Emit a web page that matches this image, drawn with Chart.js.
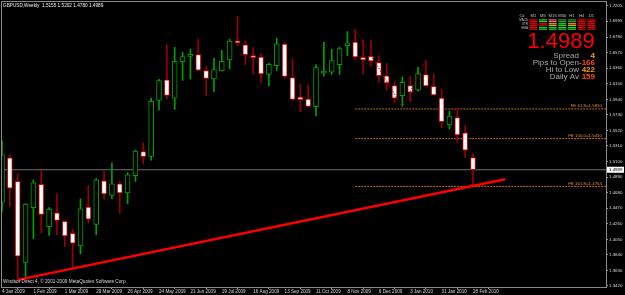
<!DOCTYPE html>
<html>
<head>
<meta charset="utf-8">
<script src="https://cdn.jsdelivr.net/npm/chart.js@4.4.1/dist/chart.umd.min.js"></script>
<style>
  html, body { margin: 0; padding: 0; background: #000; }
  #wrap { position: relative; width: 625px; height: 295px; }
</style>
</head>
<body>
<div id="wrap"><canvas id="chart"></canvas></div>
<script>
/* weekly GBPUSD candles, 4 Jan 2009 .. 28 Feb 2010 */
const opens = [1.4547, 1.5151, 1.4833, 1.3738, 1.4476, 1.4793, 1.4221, 1.4409, 1.4292, 1.4131,
  1.3961, 1.4484, 1.4252, 1.4839, 1.4641, 1.4798, 1.4675, 1.4910, 1.5236, 1.5169,
  1.5926, 1.6202, 1.5957, 1.6449, 1.6520, 1.6543, 1.6329, 1.6216, 1.6323, 1.6471,
  1.6731, 1.6677, 1.6516, 1.6511, 1.6275, 1.6396, 1.6686, 1.6235, 1.5970, 1.5943,
  1.5840, 1.6296, 1.6306, 1.6409, 1.6665, 1.6712, 1.6507, 1.6520, 1.6436, 1.6256,
  1.6127, 1.5988, 1.6127, 1.6064, 1.6275, 1.6114, 1.5957, 1.5594, 1.5692, 1.5487,
  1.5155];
const highs = [1.5380, 1.5190, 1.4937, 1.4534, 1.4852, 1.4986, 1.4480, 1.4664, 1.4300, 1.4185,
  1.4597, 1.4775, 1.4869, 1.4967, 1.5084, 1.4829, 1.4950, 1.5255, 1.5357, 1.5953,
  1.6212, 1.6677, 1.6641, 1.6574, 1.6618, 1.6753, 1.6386, 1.6494, 1.6601, 1.6749,
  1.7057, 1.6731, 1.6641, 1.6557, 1.6431, 1.6766, 1.6702, 1.6484, 1.6141, 1.6135,
  1.6409, 1.6708, 1.6614, 1.6645, 1.6856, 1.6883, 1.6745, 1.6735, 1.6530, 1.6422,
  1.6175, 1.6243, 1.6252, 1.6373, 1.6463, 1.6283, 1.6078, 1.5782, 1.5818, 1.5581,
  1.5202];
const lows = [1.4427, 1.4494, 1.3514, 1.3545, 1.4060, 1.4141, 1.4104, 1.4113, 1.3947, 1.3671,
  1.3853, 1.4269, 1.4114, 1.4588, 1.4597, 1.4404, 1.4530, 1.4833, 1.5067, 1.5120,
  1.5792, 1.5947, 1.5805, 1.6194, 1.6216, 1.6326, 1.5993, 1.6041, 1.6319, 1.6350,
  1.6661, 1.6409, 1.6283, 1.6162, 1.6122, 1.6329, 1.6229, 1.5930, 1.5773, 1.5836,
  1.5715, 1.6252, 1.6275, 1.6275, 1.6531, 1.6476, 1.6283, 1.6386, 1.6171, 1.6064,
  1.5894, 1.5836, 1.5907, 1.6051, 1.6118, 1.5997, 1.5558, 1.5537, 1.5357, 1.5155,
  1.4780];
const closes = [1.5192, 1.4742, 1.3822, 1.4524, 1.4812, 1.4386, 1.4457, 1.4306, 1.4095, 1.3997,
  1.4463, 1.4323, 1.4852, 1.4664, 1.4798, 1.4675, 1.4919, 1.5241, 1.5165, 1.5912,
  1.6194, 1.5993, 1.6453, 1.6516, 1.6547, 1.6333, 1.6221, 1.6342, 1.6453, 1.6726,
  1.6702, 1.6543, 1.6503, 1.6283, 1.6413, 1.6691, 1.6248, 1.5939, 1.5934, 1.5845,
  1.6369, 1.6315, 1.6463, 1.6624, 1.6704, 1.6514, 1.6471, 1.6457, 1.6261, 1.6162,
  1.5957, 1.6171, 1.6037, 1.6288, 1.6122, 1.6001, 1.5639, 1.5715, 1.5460, 1.5255,
  1.4989];

const dateLabels = ["4 Jan 2009", "1 Feb 2009", "1 Mar 2009", "29 Mar 2009", "26 Apr 2009",
  "24 May 2009", "21 Jun 2009", "19 Jul 2009", "16 Aug 2009", "13 Sep 2009", "11 Oct 2009",
  "8 Nov 2009", "6 Dec 2009", "3 Jan 2010", "31 Jan 2010", "28 Feb 2010"];
const priceTicks = [1.3420, 1.3630, 1.3840, 1.4050, 1.4260, 1.4470, 1.4680, 1.4890, 1.5100,
  1.5310, 1.5520, 1.5730, 1.5940, 1.6150, 1.6360, 1.6570, 1.6780, 1.6995, 1.7205];

const lastPrice = 1.4989;
const feLevels = [1.5810, 1.5410, 1.4764];
const feNames = ["FE 61.8=1.5810", "FE 100.0=1.5410", "FE 161.8=1.4764"];
const feStart = 45;
const zigzagIdx = [45, 51, 54];
const zigzagPrice = [1.6883, 1.5836, 1.6463];
const trendIdx = [2, 64.1];
const trendPrice = [1.3503, 1.4861];

// indicator panel
const tfNames = ["M1", "M5", "M15", "M30", "H1", "H4", "D1"];
const rowNames = ["MACD", "STR", "EMA"];
const panelRows = [
  ["red", "lime", "pink", "green", "green", "red", "red"],
  ["red", "red", "orange", "lime", "orange", "red", "red"],
  ["red", "lime", "lime", "lime", "lime", "red", "red"]
];
const statNames = ["Spread", "Pips to Open", "Hi to Low", "Daily Av"];
const statValues = ["4", "-166", "422", "159"];
const statColors = ["#f0a000", "#ff4a10", "#f0a000", "#ff4a10"];

const X_MAX = 604 / 7.85;
const GREEN = "#00a000";
const BEAR_WICK = "#9a0000";
const FE_COLOR = "#c06a1e";
const FONT = "Liberation Sans";

const idx = opens.map((v, i) => i);
const isBull = idx.map((i) => closes[i] >= opens[i]);

const overlay = {
  id: "overlay",
  afterDraw(chart) {
    const ctx = chart.ctx;
    const ys = chart.scales.y;
    const area = chart.chartArea;
    ctx.save();

    // frame
    ctx.strokeStyle = "#8a8a8a";
    ctx.lineWidth = 1;
    ctx.strokeRect(1.5, 1.5, area.right - 1, area.bottom - 1);

    // header and copyright
    ctx.font = `4.7px "${FONT}"`;
    ctx.fillStyle = "#f0f0f0";
    ctx.textBaseline = "middle";
    ctx.textAlign = "left";
    ctx.fillText("GBPUSD,Weekly  1.5155 1.5202 1.4780 1.4989", 3, 5.5);
    ctx.fillStyle = "#d8d8d8";
    ctx.fillText("Windsor Direct 4, \u00a9 2001-2009 MetaQuotes Software Corp.", 3, 282);

    // FE labels
    ctx.font = `4.4px "${FONT}"`;
    ctx.fillStyle = "#e08a30";
    ctx.textAlign = "right";
    feLevels.forEach((lv, k) => {
      ctx.fillText(feNames[k], 602, ys.getPixelForValue(lv) - 3);
    });

    // current price box on the axis
    const py = ys.getPixelForValue(lastPrice);
    ctx.fillStyle = "#ffffff";
    ctx.fillRect(607, py - 3, 17, 6);
    ctx.fillStyle = "#000000";
    ctx.textAlign = "left";
    ctx.fillText(lastPrice.toFixed(4), 609, py + 0.3);

    // indicator panel
    const colorMap = { red: "#e80000", lime: "#10e010", pink: "#f07070",
      green: "#2f9a2f", orange: "#f0a000" };
    const cx0 = 533.3, dx = 9.67;
    ctx.font = `4.2px "${FONT}"`;
    ctx.fillStyle = "#c0c0c0";
    ctx.textAlign = "center";
    ctx.fillText("Ck", 522, 15.7);
    tfNames.forEach((t, c) => ctx.fillText(t, cx0 + c * dx, 15.7));
    ctx.font = `3px "${FONT}"`;
    ctx.textAlign = "right";
    rowNames.forEach((r, k) => ctx.fillText(r, 528, 20.6 + k * 3.9));
    panelRows.forEach((row, r) => {
      row.forEach((c, col) => {
        const x = cx0 + col * dx - 4;
        const y = 19.3 + r * 3.8;
        ctx.fillStyle = colorMap[c];
        ctx.fillRect(x, y, 8, 1.2);
        ctx.fillRect(x, y + 1.7, 8, 1.2);
      });
    });

    ctx.font = `22px "${FONT}"`;
    ctx.fillStyle = "#ff0000";
    ctx.textAlign = "center";
    ctx.fillText(lastPrice.toFixed(4), 561, 42);

    statNames.forEach((s, k) => {
      const y = 55.3 + k * 7.3;
      ctx.font = `8px "${FONT}"`;
      ctx.fillStyle = "#a8a8a8";
      ctx.textAlign = "right";
      ctx.fillText(s, 579, y);
      ctx.font = `bold 8px "${FONT}"`;
      ctx.fillStyle = statColors[k];
      ctx.fillText(statValues[k], 595, y);
    });

    ctx.restore();
  }
};

const hLine = (y, x0, color, dash) => ({
  type: "line",
  data: [{ x: x0, y: y }, { x: X_MAX, y: y }],
  borderColor: color,
  borderWidth: 1,
  borderDash: dash,
  pointRadius: 0,
  order: 5
});

const datasets = [
  hLine(lastPrice, 0, "#707070", []),
  ...feLevels.map((lv) => hLine(lv, feStart, FE_COLOR, [2, 1])),
  {
    type: "bar",
    data: idx.map((i) => ({ x: i, y: [lows[i], highs[i]] })),
    backgroundColor: idx.map((i) => (isBull[i] ? GREEN : BEAR_WICK)),
    borderWidth: 0,
    barThickness: 1,
    grouped: false,
    order: 4
  },
  {
    type: "bar",
    data: idx.map((i) => ({ x: i, y: [opens[i], closes[i]] })),
    backgroundColor: idx.map((i) => (isBull[i] ? "#000000" : "#ffffff")),
    borderColor: idx.map((i) => (isBull[i] ? GREEN : "#e00000")),
    borderWidth: 1,
    borderSkipped: false,
    barThickness: 5,
    minBarLength: 2,
    grouped: false,
    order: 3
  },
  {
    type: "line",
    data: zigzagIdx.map((x, k) => ({ x: x, y: zigzagPrice[k] })),
    borderColor: "#a00000",
    borderWidth: 1,
    borderDash: [1.5, 1.5],
    pointRadius: 0,
    order: 2
  },
  {
    type: "line",
    data: trendIdx.map((x, k) => ({ x: x, y: trendPrice[k] })),
    borderColor: "#ff0000",
    borderWidth: 2.4,
    pointRadius: 0,
    order: 1
  }
];

new Chart(document.getElementById("chart"), {
  type: "bar",
  data: { datasets: datasets },
  plugins: [overlay],
  options: {
    responsive: true,
    maintainAspectRatio: false,
    animation: false,
    devicePixelRatio: 1,
    layout: { padding: { left: 2, top: 2, right: 0, bottom: 0 } },
    plugins: { legend: { display: false }, tooltip: { enabled: false } },
    scales: {
      x: {
        type: "linear",
        min: 0,
        max: X_MAX,
        offset: false,
        afterFit: (s) => { s.height = 8; },
        afterBuildTicks: (s) => { s.ticks = dateLabels.map((d, k) => ({ value: k * 4 })); },
        ticks: {
          callback: (v) => dateLabels[Math.round(v / 4)],
          align: "start",
          autoSkip: false,
          maxRotation: 0,
          padding: 0,
          color: "#d8d8d8",
          font: { family: FONT, size: 4.6 }
        },
        grid: { drawOnChartArea: false, tickLength: 2, color: "#9a9a9a" },
        border: { display: false }
      },
      y: {
        type: "linear",
        position: "right",
        min: 1.3406,
        max: 1.7232,
        afterFit: (s) => { s.width = 19; },
        afterBuildTicks: (s) => { s.ticks = priceTicks.map((v) => ({ value: v })); },
        ticks: {
          callback: (v) => v.toFixed(4),
          autoSkip: false,
          padding: 1,
          color: "#d8d8d8",
          font: { family: FONT, size: 4.4 }
        },
        grid: { drawOnChartArea: false, tickLength: 2, color: "#9a9a9a" },
        border: { display: false }
      }
    }
  }
});
</script>
</body>
</html>
